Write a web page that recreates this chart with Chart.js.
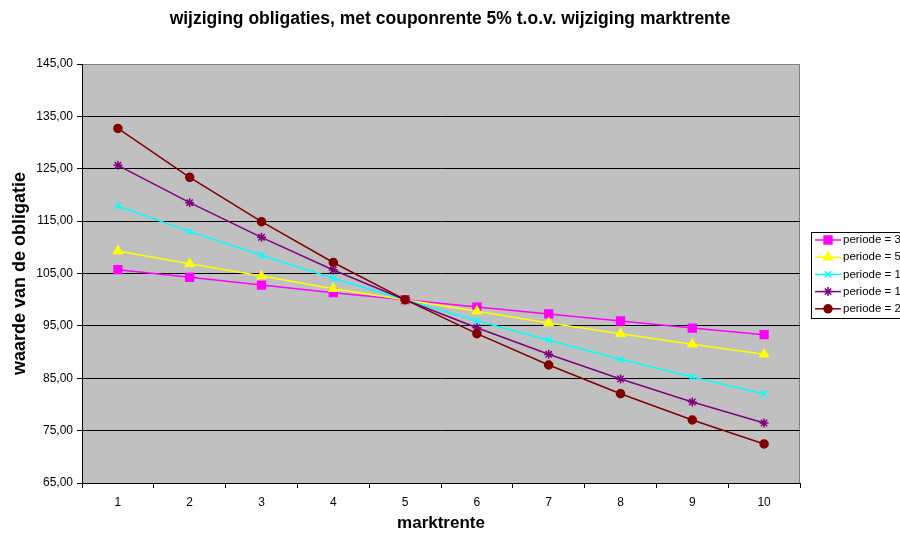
<!DOCTYPE html>
<html>
<head>
<meta charset="utf-8">
<script src="https://cdn.jsdelivr.net/npm/chart.js@4/dist/chart.umd.min.js"></script>
<style>
  body { margin: 0; background: #fff; }
  #wrap { width: 900px; height: 535px; overflow: hidden; }
</style>
</head>
<body>
<div id="wrap"><canvas id="obligaties" width="900" height="535"></canvas></div>
<script>
const marktrente = ["1", "2", "3", "4", "5", "6", "7", "8", "9", "10"];
const periode3 = [105.73, 104.27, 102.8, 101.34, 100.0, 98.6, 97.27, 95.93, 94.59, 93.32];
const periode5 = [109.3, 106.87, 104.52, 102.1, 100.0, 97.78, 95.55, 93.51, 91.48, 89.57];
const periode10 = [117.89, 112.99, 108.47, 104.08, 100.0, 95.99, 92.24, 88.61, 85.24, 81.99];
const periode15 = [125.66, 118.52, 111.91, 105.67, 100.0, 94.65, 89.57, 84.86, 80.47, 76.46];
const periode20 = [132.7, 123.37, 114.9, 107.1, 100.0, 93.51, 87.53, 82.05, 77.03, 72.45];
const yMin = 65;
const yMax = 145;
const yStep = 10;

const FONT = "'Liberation Sans', Arial, sans-serif";

function serie(label, data, color, pointStyle, radius, order) {
  return {
    label: label,
    data: data,
    borderColor: color,
    backgroundColor: color,
    pointBackgroundColor: color,
    pointBorderColor: color,
    pointStyle: pointStyle,
    pointRadius: radius,
    pointBorderWidth: 1.5,
    borderWidth: 1.5,
    tension: 0,
    order: order,
  };
}

// grijze achtergrond + rand van het plotgebied
const plotArea = {
  id: "plotArea",
  beforeDraw(chart) {
    const { ctx, chartArea: a } = chart;
    ctx.save();
    ctx.fillStyle = "#C0C0C0";
    ctx.fillRect(a.left, a.top, a.right - a.left, a.bottom - a.top);
    ctx.strokeStyle = "#808080";
    ctx.lineWidth = 1;
    ctx.strokeRect(a.left + 0.5, a.top + 0.5, a.right - a.left - 1, a.bottom - a.top);
    ctx.restore();
  },
};

// legenda in een kader, zoals in Excel
const boxLegend = {
  id: "boxLegend",
  afterDraw(chart) {
    const ctx = chart.ctx;
    const x0 = 811, y0 = 232, rowH = 17.2;
    const sets = chart.data.datasets;
    ctx.save();
    ctx.fillStyle = "#fff";
    ctx.fillRect(x0, y0, 120, rowH * sets.length + 0.5);
    ctx.strokeStyle = "#000";
    ctx.lineWidth = 1;
    ctx.strokeRect(x0 + 0.5, y0 + 0.5, 120, rowH * sets.length);
    ctx.font = "11.5px " + FONT;
    ctx.textBaseline = "middle";
    sets.forEach((ds, i) => {
      const y = y0 + 8 + i * rowH;
      ctx.strokeStyle = ds.borderColor;
      ctx.fillStyle = ds.borderColor;
      ctx.lineWidth = 1.5;
      ctx.beginPath();
      ctx.moveTo(815, y);
      ctx.lineTo(841, y);
      ctx.stroke();
      if (Chart.helpers && Chart.helpers.drawPoint) {
        Chart.helpers.drawPoint(ctx, { pointStyle: ds.pointStyle, radius: ds.pointRadius, rotation: 0, borderWidth: 1.5 }, 828, y);
      }
      ctx.fillStyle = "#000";
      ctx.fillText(ds.label, 843, y);
    });
    ctx.restore();
  },
};

new Chart(document.getElementById("obligaties"), {
  type: "line",
  data: {
    labels: marktrente,
    datasets: [
      serie("periode = 3", periode3, "#FF00FF", "rect", 5.5, 4),
      serie("periode = 5", periode5, "#FFFF00", "triangle", 5, 3),
      serie("periode = 10", periode10, "#00FFFF", "crossRot", 4.5, 2),
      serie("periode = 15", periode15, "#800080", "star", 4.5, 1),
      serie("periode = 20", periode20, "#800000", "circle", 4, 0),
    ],
  },
  plugins: [plotArea, boxLegend],
  options: {
    responsive: false,
    animation: false,
    layout: { padding: 0 },
    plugins: {
      legend: { display: false },
      tooltip: { enabled: false },
      title: {
        display: true,
        text: "wijziging obligaties, met couponrente 5% t.o.v. wijziging marktrente",
        color: "#000",
        font: { family: FONT, size: 17.5, weight: "bold" },
        padding: { top: 9, bottom: 34 },
      },
    },
    scales: {
      x: {
        type: "category",
        offset: true,
        afterFit(scale) { scale.height = 52; },
        grid: {
          offset: true,
          drawOnChartArea: false,
          drawTicks: true,
          tickLength: 5,
          color: "#000",
        },
        border: { color: "#000", width: 1 },
        ticks: {
          color: "#000",
          font: { family: FONT, size: 12 },
          padding: 7,
          maxRotation: 0,
        },
        title: {
          display: true,
          text: "marktrente",
          color: "#000",
          font: { family: FONT, size: 17, weight: "bold" },
          padding: { top: 0, bottom: 1 },
        },
      },
      y: {
        min: yMin,
        max: yMax,
        afterFit(scale) { scale.width = 82; },
        grid: {
          color: (c) => (c.tick && c.tick.value === yMax ? "#808080" : "#000"),
          tickColor: "#000",
          tickLength: 5,
        },
        border: { color: "#000", width: 1 },
        ticks: {
          stepSize: yStep,
          color: "#000",
          font: { family: FONT, size: 12 },
          padding: 4,
          callback: (v) => v.toFixed(2).replace(".", ","),
        },
        title: {
          display: true,
          text: "waarde van de obligatie",
          color: "#000",
          font: { family: FONT, size: 18, weight: "bold" },
          padding: { top: 9, bottom: 0 },
        },
      },
      // lege ruimte rechts voor de legenda
      ruimte: {
        type: "linear",
        position: "right",
        min: yMin,
        max: yMax,
        afterFit(scale) { scale.width = 100; },
        grid: { display: false, drawTicks: false },
        border: { display: false },
        ticks: { display: false },
      },
    },
  },
});
</script>
</body>
</html>
